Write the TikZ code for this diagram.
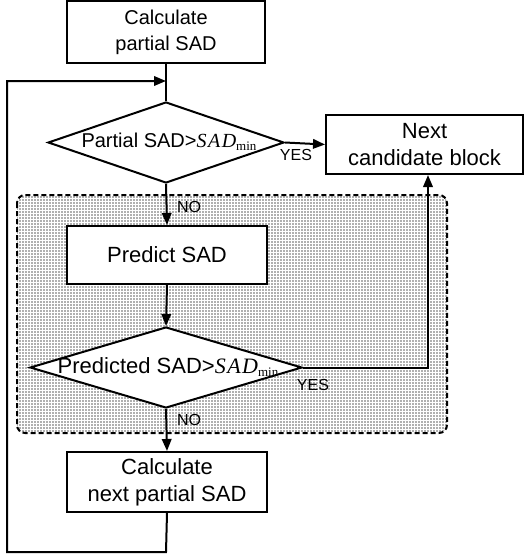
\documentclass[tikz,border=0pt]{standalone}
\usepackage{fontspec}
\setmainfont{Liberation Sans}
\newfontfamily\tms{Liberation Serif}
\usetikzlibrary{shapes.geometric,arrows.meta,patterns}
\newcommand{\sadmin}{{\tms\itshape S\kern1.5pt A\kern1.5pt D}\raisebox{-3pt}{\tms\fontsize{13}{13}\selectfont min}}
\begin{document}
\begin{tikzpicture}[x=1pt,y=-1pt,
  line width=2pt,
  box/.style={draw,fill=white,rectangle,inner sep=0pt,align=center,font=\fontsize{22}{27}\selectfont},
  dia/.style={draw,fill=white,diamond,inner sep=0pt},
  dtext/.style={inner sep=0pt,font=\fontsize{22}{24}\selectfont},
  lab/.style={inner sep=0pt,font=\fontsize{16}{18}\selectfont},
  arr/.style={-{Triangle[length=12pt,width=9.5pt]}}]
\useasboundingbox (0,0) rectangle (528,555);
% shaded region
\fill[gray!62,rounded corners=8pt] (17,195) rectangle (447,433);
\fill[pattern=grid,pattern color=white,rounded corners=8pt] (17,195) rectangle (447,433);
\draw[dash pattern=on 5pt off 3pt,rounded corners=8pt] (17,195) rectangle (447,433);
% nodes
\node[box,minimum width=198pt,minimum height=62pt,font=\fontsize{20}{26}\selectfont] (top) at (166,32) {Calculate\\partial SAD};
\node[dia,minimum width=236pt,minimum height=81pt] (d1) at (166,142.5) {};
\node[dtext,font=\fontsize{20}{24}\selectfont] (t1) at (169,142) {Partial SAD>\sadmin};
\node[box,minimum width=197pt,minimum height=59pt] (next) at (424.5,144.5) {Next\\candidate block};
\node[box,minimum width=200pt,minimum height=58pt] (pred) at (167,255) {Predict SAD};
\node[dia,minimum width=272pt,minimum height=81pt] (d2) at (166,367.5) {};
\node[dtext] (t2) at (168,367) {Predicted SAD>\sadmin};
\node[box,minimum width=200pt,minimum height=60pt] (calc) at (167,482) {Calculate\\next partial SAD};
% coordinates
\coordinate (loopin) at (166,81);
\coordinate (lb) at (166,552);
\coordinate (ll) at (7,552);
\coordinate (lt) at (7,81);
\coordinate (turn) at (428,367.5);
% connectors
\draw (top.south) -- (d1.north);
\draw[arr] (d1.east) -- (next.west);
\draw[arr] (d1.south) -- (pred.north);
\draw[arr] (pred.south) -- (d2.north);
\draw[arr] (d2.east) -- (turn) -- (turn |- next.south);
\draw[arr] (d2.south) -- (calc.north);
\draw[arr] (calc.south) -- (lb) -- (ll) -- (lt) -- (loopin);
% labels
\node[lab] (yes1) at (296,155) {YES};
\node[lab] (no1) at (189,207) {NO};
\node[lab] (yes2) at (313,385) {YES};
\node[lab] (no2) at (189,420) {NO};
\end{tikzpicture}
\end{document}
